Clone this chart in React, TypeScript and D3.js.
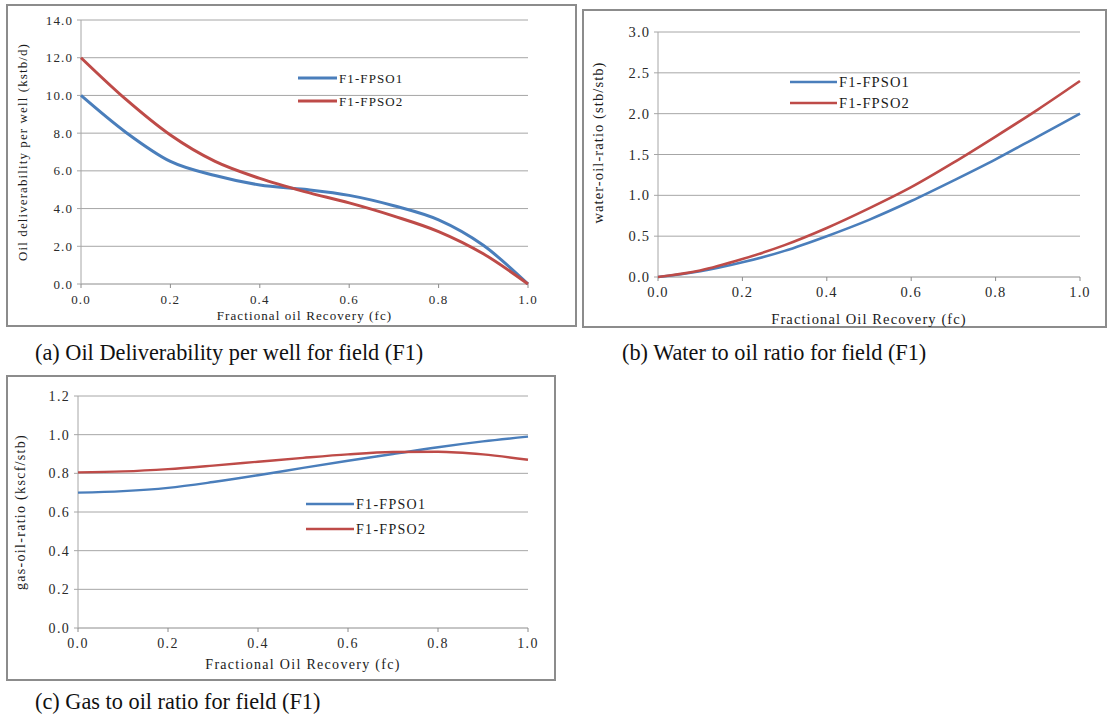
import React from 'react'
import * as d3 from 'd3'

// fractional oil recovery samples
const fc = [0, 0.1, 0.2, 0.3, 0.4, 0.5, 0.6, 0.7, 0.8, 0.9, 1.0]

// (a) oil deliverability per well (kstb/d)
const oilFpso1 = [10.0, 8.05, 6.5, 5.75, 5.25, 5.02, 4.7, 4.15, 3.4, 2.05, 0]
const oilFpso2 = [12.0, 9.8, 7.9, 6.5, 5.6, 4.9, 4.3, 3.6, 2.78, 1.6, 0]

// (b) water-oil-ratio (stb/stb)
const worFpso1 = [0, 0.07, 0.18, 0.32, 0.5, 0.7, 0.93, 1.18, 1.44, 1.72, 2.0]
const worFpso2 = [0, 0.08, 0.22, 0.39, 0.6, 0.84, 1.1, 1.4, 1.72, 2.05, 2.4]

// (c) gas-oil-ratio (kscf/stb)
const gorFpso1 = [0.70, 0.708, 0.725, 0.755, 0.79, 0.828, 0.865, 0.9, 0.935, 0.965, 0.99]
const gorFpso2 = [0.805, 0.81, 0.822, 0.84, 0.86, 0.88, 0.898, 0.91, 0.912, 0.898, 0.87]

const xTicks = [0, 0.2, 0.4, 0.6, 0.8, 1.0]
const oilTicks = [0, 2, 4, 6, 8, 10, 12, 14]
const worTicks = [0, 0.5, 1.0, 1.5, 2.0, 2.5, 3.0]
const gorTicks = [0, 0.2, 0.4, 0.6, 0.8, 1.0, 1.2]

const seriesNames = ['F1-FPSO1', 'F1-FPSO2']
const BLUE = '#4a7ebb'
const RED = '#be4b48'
const FONT = 'Liberation Serif'

function Panel(props) {
  const { frame, plot, yTicks, yMax, y1, y2, yLabel, xLabel, legend, fs, ls, lw, xLabelY, yLabelX, yLabelDy } = props
  const x = d3.scaleLinear().domain([0, 1]).range([plot.left, plot.right])
  const y = d3.scaleLinear().domain([0, yMax]).range([plot.bottom, plot.top])
  const line = d3.line<number>()
    .x((d, i) => x(fc[i]))
    .y(d => y(d))
    .curve(d3.curveMonotoneX)
  const txt = { fontFamily: FONT, fontSize: fs, letterSpacing: ls }

  return (
    <g>
      <rect x={frame.x} y={frame.y} width={frame.w} height={frame.h} fill="white" stroke="#8c8c8c" strokeWidth={2} />
      {yTicks.map(t => (
        <g key={'y' + t}>
          {t > 0 && <line x1={plot.left} x2={plot.right} y1={y(t)} y2={y(t)} stroke="#a6a6a6" strokeWidth={1} />}
          <line x1={plot.left - 4} x2={plot.left} y1={y(t)} y2={y(t)} stroke="#a6a6a6" />
          <text x={plot.left - 8} y={y(t)} dy="0.35em" textAnchor="end" style={txt} fill="#2a2a2a">
            {t.toFixed(1)}
          </text>
        </g>
      ))}
      <line x1={plot.left} x2={plot.right} y1={plot.bottom} y2={plot.bottom} stroke="#8c8c8c" strokeWidth={1} />
      <line x1={plot.left} x2={plot.left} y1={plot.top} y2={plot.bottom} stroke="#a6a6a6" strokeWidth={1} />
      {xTicks.map(t => (
        <g key={'x' + t}>
          <line x1={x(t)} x2={x(t)} y1={plot.bottom} y2={plot.bottom + 4} stroke="#8c8c8c" />
          <text x={x(t)} y={plot.bottom + 20} textAnchor="middle" style={txt} fill="#2a2a2a">
            {t.toFixed(1)}
          </text>
        </g>
      ))}
      <path d={line(y1) || ''} fill="none" stroke={BLUE} strokeWidth={lw} />
      <path d={line(y2) || ''} fill="none" stroke={RED} strokeWidth={lw} />
      <text x={(plot.left + plot.right) / 2} y={xLabelY} textAnchor="middle" style={txt} fill="#1a1a1a">
        {xLabel}
      </text>
      <text transform={`translate(${yLabelX},${(plot.top + plot.bottom) / 2 + yLabelDy}) rotate(-90)`} textAnchor="middle"
        style={txt} fill="#1a1a1a">
        {yLabel}
      </text>
      {seriesNames.map((name, i) => (
        <g key={name}>
          <line x1={legend.x} x2={legend.x + legend.len} y1={legend.y + i * legend.gap} y2={legend.y + i * legend.gap}
            stroke={i === 0 ? BLUE : RED} strokeWidth={lw} />
          <text x={legend.x + legend.len + 2} y={legend.y + i * legend.gap} dy="0.35em" style={txt} fill="#1a1a1a">
            {name}
          </text>
        </g>
      ))}
    </g>
  )
}

const capStyle = { fontFamily: FONT, fontSize: 22.3, fill: '#111' }

export default function App() {
  return (
    <svg width={1108} height={715} style={{ position: 'absolute', left: 0, top: 0, background: 'white' }}>
      <Panel
        frame={{ x: 7, y: 5, w: 569, h: 321 }}
        plot={{ left: 81, right: 528, top: 20, bottom: 284 }}
        yTicks={oilTicks} yMax={14} y1={oilFpso1} y2={oilFpso2}
        yLabel="Oil deliverability per well (kstb/d)" xLabel="Fractional oil Recovery (fc)"
        legend={{ x: 298, y: 78, len: 39, gap: 23 }} fs={13} ls={1.1} lw={3} xLabelY={320} yLabelX={27} yLabelDy={0}
      />
      <Panel
        frame={{ x: 583, y: 10, w: 523, h: 317 }}
        plot={{ left: 658, right: 1080, top: 32, bottom: 277 }}
        yTicks={worTicks} yMax={3} y1={worFpso1} y2={worFpso2}
        yLabel="water-oil-ratio (stb/stb)" xLabel="Fractional Oil Recovery (fc)"
        legend={{ x: 790, y: 82, len: 47, gap: 21 }} fs={14.5} ls={1.1} lw={2.6} xLabelY={324} yLabelX={603} yLabelDy={-12}
      />
      <Panel
        frame={{ x: 7, y: 376, w: 548, h: 304 }}
        plot={{ left: 78, right: 528, top: 396, bottom: 628 }}
        yTicks={gorTicks} yMax={1.2} y1={gorFpso1} y2={gorFpso2}
        yLabel="gas-oil-ratio (kscf/stb)" xLabel="Fractional Oil Recovery (fc)"
        legend={{ x: 306, y: 504, len: 48, gap: 25 }} fs={14} ls={1.3} lw={2.4} xLabelY={669} yLabelX={25} yLabelDy={0}
      />
      <text x={35} y={360} style={capStyle}>(a) Oil Deliverability per well for field (F1)</text>
      <text x={622} y={360} style={capStyle}>(b) Water to oil ratio for field (F1)</text>
      <text x={35} y={709} style={capStyle}>(c) Gas to oil ratio for field (F1)</text>
    </svg>
  )
}
